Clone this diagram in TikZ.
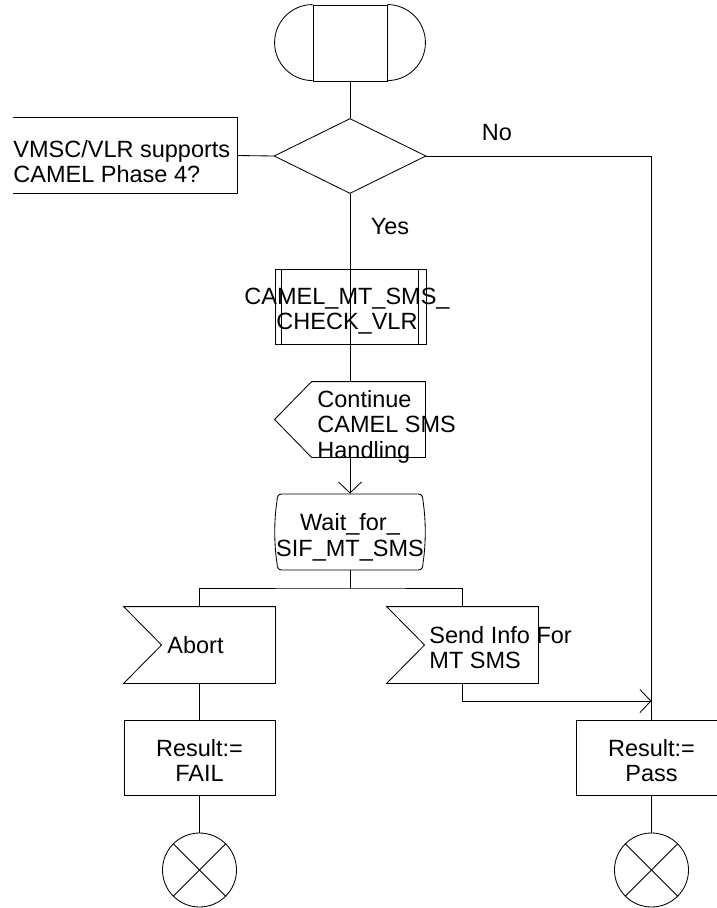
\documentclass[tikz,border=0pt]{standalone}
\usepackage{fontspec}
\setmainfont{Liberation Sans}
\usetikzlibrary{shapes.geometric,arrows.meta,calc}
\begin{document}
\begin{tikzpicture}[x=1pt,y=-1pt,line width=0.85pt,
  every node/.style={font=\fontsize{23.5}{25.5}\selectfont,inner sep=0pt},
  box/.style={draw,minimum width=151pt,minimum height=75pt},
  holder/.style={minimum width=#1,minimum height=76pt},
  txt/.style={align=center},
  ltxt/.style={align=left,anchor=west},
  arr/.style={-{Straight Barb[length=11pt,width=23pt]}}]
\clip (0,0) rectangle (717,908);
% start
\node[draw,minimum width=74pt,minimum height=76pt] (start) at (350,43) {};
\draw (start.north west) arc[start angle=90,end angle=270,radius=38pt];
\draw (start.north east) arc[start angle=90,end angle=-90,radius=38pt];
% decision
\node[diamond,draw,minimum width=152pt,minimum height=75pt] (dec) at (350,156) {};
\node (no) at (497,133) {No};
\node (yes) at (390,227) {Yes};
% comment
\node[minimum width=224pt,minimum height=75pt] (cmt) at (125,155.5) {};
\draw (cmt.north west) -- (cmt.north east) -- (cmt.south east) -- (cmt.south west);
\node[ltxt] (cmtt) at (13,161.5) {VMSC/VLR supports\\CAMEL Phase 4?};
% procedure
\node[box] (proc) at (350.5,306.5) {};
\draw ([xshift=7pt]proc.north west) -- ([xshift=7pt]proc.south west);
\draw ([xshift=-8pt]proc.north east) -- ([xshift=-8pt]proc.south east);
\node[txt] (proct) at (347,311) {CAMEL\_MT\_SMS\_\\CHECK\_VLR};
% continue (output pointing left)
\node[holder=150pt,minimum height=75pt] (cont) at (350,419.5) {};
\draw (cont.west) -- ([xshift=37pt]cont.north west) -- (cont.north east) -- (cont.south east) -- ([xshift=37pt]cont.south west) -- cycle;
\node[ltxt] (contt) at (317,426.5) {Continue\\CAMEL SMS\\Handling};
% wait state
\node[holder=150pt] (wait) at (350,532) {};
\draw[shift={(wait.center)}] (-68,-38) -- (68,-38) .. controls (72,-38) and (73,-35) .. (73,-31)
  .. controls (76,-12) and (76,12) .. (73,31) .. controls (73,35) and (72,38) .. (68,38)
  -- (-68,38) .. controls (-72,38) and (-73,35) .. (-73,31)
  .. controls (-76,12) and (-76,-12) .. (-73,-31) .. controls (-73,-35) and (-72,-38) .. (-68,-38) -- cycle;
\node[txt] (waitt) at (350,537.5) {Wait\_for\_\\SIF\_MT\_SMS};
\coordinate (split) at (350,588);
% inputs
\node[holder=151pt] (abort) at (199.5,645) {};
\draw (abort.north west) -- (abort.north east) -- (abort.south east) -- (abort.south west) -- ([xshift=38pt]abort.west) -- cycle;
\node[ltxt] (abortt) at (167,645) {Abort};
\node[holder=151pt] (send) at (462.5,645) {};
\draw (send.north west) -- (send.north east) -- (send.south east) -- (send.south west) -- ([xshift=38pt]send.west) -- cycle;
\node[ltxt] (sendt) at (429,647.5) {Send Info For\\MT SMS};
% tasks
\node[box] (fail) at (199.5,757.5) {};
\node[txt] (failt) at (199.5,760.5) {Result:=\\FAIL};
\node[box] (pass) at (651.5,757.5) {};
\node[txt] (passt) at (651.5,760.5) {Result:=\\Pass};
\coordinate (join) at (651.5,701);
% terminators
\node[circle,draw,minimum size=74pt] (end1) at (199.5,870) {};
\draw (end1.north west) -- (end1.south east);
\draw (end1.north east) -- (end1.south west);
\node[circle,draw,minimum size=74pt] (end2) at (651.5,870) {};
\draw (end2.north west) -- (end2.south east);
\draw (end2.north east) -- (end2.south west);
% connectors
\draw (start.south) -- (dec.north);
\draw (dec.west) -- (cmt.east);
\draw (dec.east) -| (pass.north);
\draw (dec.south) -- (proc.south -| dec.south);
\draw (proc.south -| cont.north) -- (cont.north);
\draw[arr] (cont.south) -- (wait.north);
\draw (wait.south) -- (split);
\draw (abort.north) |- (split) -| (send.north);
\draw[arr] (send.south) |- (join);
\draw (abort.south) -- (fail.north);
\draw (fail.south) -- (end1.north);
\draw (pass.south) -- (end2.north);
\end{tikzpicture}
\end{document}
